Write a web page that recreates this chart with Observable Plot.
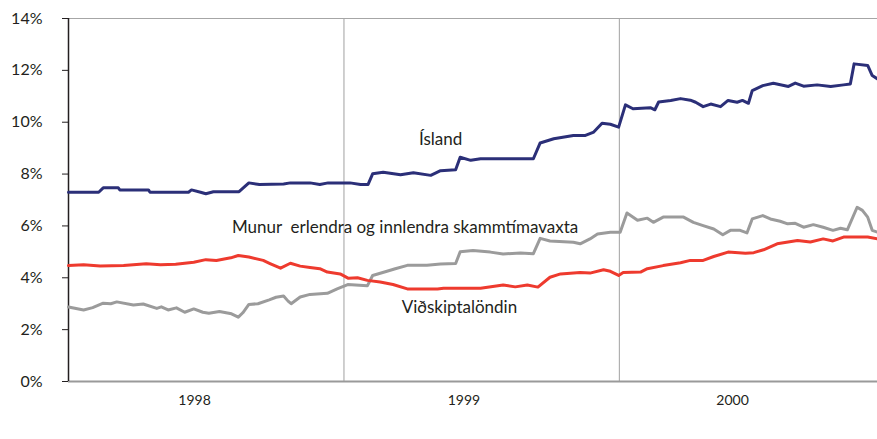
<!DOCTYPE html>
<html>
<head>
<meta charset="utf-8">
<script src="https://cdn.jsdelivr.net/npm/d3@7"></script>
<script src="https://cdn.jsdelivr.net/npm/@observablehq/plot@0.6"></script>
<style>
  html, body { margin: 0; padding: 0; background: #fff; }
  #chart text { white-space: pre; }
</style>
</head>
<body>
<div id="chart"></div>
<script>
// Ísland
const island = [
  ["1998-01-01",7.30],["1998-02-10",7.30],["1998-02-16",7.47],["1998-03-08",7.47],["1998-03-10",7.39],
  ["1998-04-17",7.39],["1998-04-19",7.30],["1998-06-09",7.30],["1998-06-13",7.39],["1998-06-25",7.30],
  ["1998-07-02",7.24],["1998-07-12",7.32],["1998-08-15",7.32],["1998-08-28",7.66],["1998-09-11",7.60],
  ["1998-10-13",7.62],["1998-10-22",7.66],["1998-11-17",7.66],["1998-11-30",7.60],["1998-12-11",7.66],
  ["1999-01-09",7.66],["1999-01-23",7.60],["1999-02-02",7.60],["1999-02-08",8.01],["1999-02-22",8.07],
  ["1999-03-17",7.97],["1999-04-03",8.05],["1999-04-26",7.95],["1999-05-09",8.13],["1999-05-29",8.17],
  ["1999-06-04",8.65],["1999-06-18",8.53],["1999-07-01",8.59],["1999-09-09",8.59],["1999-09-18",9.20],
  ["1999-10-06",9.36],["1999-11-01",9.49],["1999-11-17",9.49],["1999-11-28",9.62],["1999-12-09",9.96],
  ["1999-12-20",9.92],["1999-12-31",9.81],["2000-01-09",10.67],["2000-01-19",10.52],["2000-02-11",10.56],
  ["2000-02-17",10.48],["2000-02-22",10.78],["2000-03-09",10.84],["2000-03-22",10.91],["2000-04-04",10.85],
  ["2000-04-11",10.77],["2000-04-21",10.60],["2000-05-01",10.70],["2000-05-14",10.60],["2000-05-24",10.84],
  ["2000-06-05",10.77],["2000-06-12",10.84],["2000-06-20",10.73],["2000-06-25",11.22],["2000-07-09",11.41],
  ["2000-07-23",11.50],["2000-08-12",11.38],["2000-08-21",11.51],["2000-09-01",11.39],["2000-09-19",11.44],
  ["2000-10-07",11.38],["2000-10-24",11.44],["2000-11-02",11.47],["2000-11-07",12.25],["2000-11-25",12.19],
  ["2000-12-01",11.80],["2000-12-08",11.67]
];
// Viðskiptalöndin
const trading = [
  ["1998-01-01",4.47],["1998-01-21",4.50],["1998-02-12",4.45],["1998-03-15",4.47],["1998-04-14",4.54],
  ["1998-05-03",4.50],["1998-05-23",4.52],["1998-06-16",4.60],["1998-07-02",4.70],["1998-07-16",4.67],
  ["1998-08-04",4.77],["1998-08-14",4.86],["1998-08-28",4.80],["1998-09-16",4.67],["1998-09-25",4.55],
  ["1998-10-09",4.37],["1998-10-22",4.56],["1998-11-04",4.45],["1998-11-17",4.40],["1998-11-30",4.35],
  ["1998-12-10",4.22],["1998-12-27",4.15],["1999-01-07",3.98],["1999-01-19",4.00],["1999-02-01",3.90],
  ["1999-02-18",3.84],["1999-03-07",3.74],["1999-03-26",3.57],["1999-05-05",3.57],["1999-05-13",3.60],
  ["1999-06-18",3.60],["1999-07-01",3.60],["1999-07-31",3.72],["1999-08-16",3.65],["1999-09-01",3.72],
  ["1999-09-15",3.64],["1999-10-01",4.02],["1999-10-15",4.15],["1999-11-10",4.20],["1999-11-23",4.18],
  ["1999-12-11",4.31],["1999-12-20",4.25],["1999-12-31",4.09],["2000-01-06",4.20],["2000-01-29",4.22],
  ["2000-02-07",4.35],["2000-02-28",4.47],["2000-03-22",4.58],["2000-04-04",4.67],["2000-04-21",4.67],
  ["2000-05-05",4.82],["2000-05-24",4.99],["2000-06-16",4.95],["2000-06-27",4.97],["2000-07-10",5.08],
  ["2000-07-28",5.31],["2000-08-24",5.44],["2000-09-10",5.38],["2000-09-27",5.50],["2000-10-10",5.42],
  ["2000-10-24",5.57],["2000-11-25",5.57],["2000-12-08",5.50]
];
// Munur erlendra og innlendra skammtímavaxta
const spread = [
  ["1998-01-01",2.87],["1998-01-21",2.76],["1998-02-02",2.85],["1998-02-16",3.02],["1998-02-26",3.00],
  ["1998-03-06",3.07],["1998-03-28",2.95],["1998-04-10",2.99],["1998-04-28",2.82],["1998-05-04",2.88],
  ["1998-05-13",2.76],["1998-05-24",2.84],["1998-06-04",2.67],["1998-06-16",2.80],["1998-06-28",2.67],
  ["1998-07-06",2.63],["1998-07-20",2.70],["1998-08-05",2.61],["1998-08-14",2.48],["1998-08-20",2.65],
  ["1998-08-28",2.97],["1998-09-09",3.00],["1998-09-24",3.15],["1998-10-03",3.25],["1998-10-13",3.30],
  ["1998-10-19",3.10],["1998-10-23",3.00],["1998-11-04",3.26],["1998-11-17",3.36],["1998-12-10",3.40],
  ["1998-12-23",3.57],["1999-01-06",3.74],["1999-02-01",3.69],["1999-02-08",4.09],["1999-02-27",4.25],
  ["1999-03-10",4.35],["1999-03-26",4.48],["1999-04-21",4.48],["1999-05-09",4.53],["1999-05-29",4.55],
  ["1999-06-04",5.00],["1999-06-21",5.05],["1999-07-14",4.99],["1999-07-31",4.92],["1999-08-23",4.96],
  ["1999-09-09",4.93],["1999-09-18",5.52],["1999-10-01",5.42],["1999-11-01",5.37],["1999-11-10",5.31],
  ["1999-11-23",5.50],["1999-12-03",5.69],["1999-12-20",5.76],["2000-01-02",5.76],["2000-01-11",6.50],
  ["2000-01-25",6.22],["2000-02-07",6.30],["2000-02-15",6.14],["2000-02-28",6.34],["2000-03-26",6.34],
  ["2000-04-08",6.14],["2000-04-21",6.01],["2000-05-05",5.88],["2000-05-17",5.66],["2000-05-27",5.83],
  ["2000-06-09",5.83],["2000-06-18",5.73],["2000-06-25",6.27],["2000-07-09",6.40],["2000-07-19",6.27],
  ["2000-08-01",6.18],["2000-08-11",6.08],["2000-08-21",6.10],["2000-09-01",5.95],["2000-09-14",6.05],
  ["2000-09-27",5.95],["2000-10-10",5.83],["2000-10-20",5.91],["2000-10-29",5.85],["2000-11-11",6.72],
  ["2000-11-18",6.60],["2000-11-25",6.34],["2000-12-01",5.83],["2000-12-08",5.76]
];

const yTicks = [0, 2, 4, 6, 8, 10, 12, 14];
const yearLabelDates = ["1998-06-17", "1999-06-09", "2000-05-30"];
const yearStarts = ["1999-01-01", "2000-01-01"];
const xDomain = ["1998-01-01", "2000-12-08"];
const seriesLabels = [
  {text: "Ísland", date: "1999-05-09", value: 9.33},
  {text: "Munur  erlendra og innlendra skammtímavaxta", date: "1999-03-23", value: 5.94},
  {text: "Viðskiptalöndin", date: "1999-06-03", value: 2.85}
];

const parse = d3.utcParse("%Y-%m-%d");
const toRows = arr => arr.map(([d, v]) => ({date: parse(d), value: v}));

const chart = Plot.plot({
  width: 877,
  height: 439,
  marginLeft: 68,
  marginRight: 0,
  marginTop: 18,
  marginBottom: 58,
  style: {fontFamily: "Lato, 'Open Sans', sans-serif", fontSize: "16px", color: "#231f20", background: "#fff"},
  x: {type: "utc", domain: xDomain.map(parse)},
  y: {domain: [0, 14]},
  marks: [
    Plot.ruleX(yearStarts.map(parse), {stroke: "#b0b0b0", strokeWidth: 1.2}),
    Plot.ruleY([14], {stroke: "#a6a6a6", strokeWidth: 1.2}),
    Plot.ruleY([0], {stroke: "#9a9a9a", strokeWidth: 2}),
    Plot.ruleX([parse(xDomain[0])], {stroke: "#231f20", strokeWidth: 1.5}),
    Plot.axisY({ticks: yTicks, tickFormat: d => d + "%", tickSize: 6, tickPadding: 20, label: null, fontSize: 16}),
    Plot.axisX({ticks: yearLabelDates.map(parse), tickFormat: d3.utcFormat("%Y"), tickSize: 0, tickPadding: 14, label: null, fontSize: 14}),
    Plot.line(toRows(spread), {x: "date", y: "value", stroke: "#9b9b9b", strokeWidth: 3, strokeLinejoin: "round"}),
    Plot.line(toRows(trading), {x: "date", y: "value", stroke: "#ee3a2e", strokeWidth: 3, strokeLinejoin: "round"}),
    Plot.line(toRows(island), {x: "date", y: "value", stroke: "#2b2f78", strokeWidth: 3, strokeLinejoin: "round"}),
    Plot.text(seriesLabels, {x: d => parse(d.date), y: "value", text: "text", fontSize: 17, fill: "#231f20"})
  ]
});
document.getElementById("chart").appendChild(chart);
</script>
</body>
</html>
